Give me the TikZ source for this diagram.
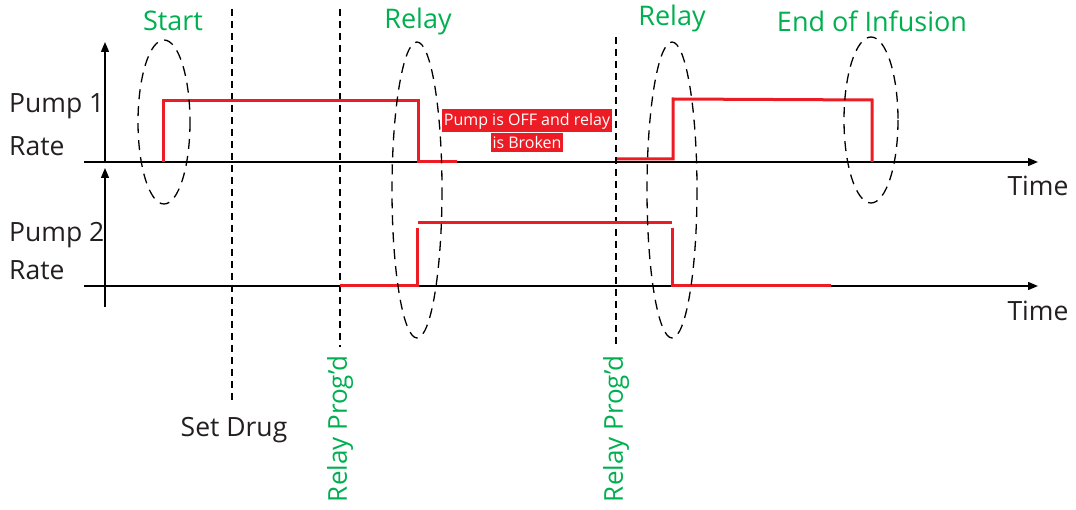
\documentclass[tikz,border=0pt]{standalone}
\usepackage{fontspec}
\setmainfont{Open Sans}
\usetikzlibrary{arrows.meta}
\definecolor{sigred}{RGB}{237,28,36}
\definecolor{evgreen}{RGB}{0,176,80}
\definecolor{ink}{RGB}{35,31,32}
\begin{document}
\begin{tikzpicture}[x=1pt,y=-1pt,
  axis/.style={line width=1.4pt,draw=black,-{Triangle[length=10pt,width=8pt]}},
  signal/.style={line width=3pt,draw=sigred},
  guide/.style={line width=1.4pt,draw=black,dash pattern=on 7pt off 5pt},
  marker/.style={line width=1.3pt,draw=black,dash pattern=on 10pt off 7pt},
  event/.style={text=evgreen,font=\fontsize{27}{30}\selectfont,inner sep=0pt},
  lbl/.style={text=ink,font=\fontsize{26.5}{30}\selectfont,inner sep=0pt},
  note/.style={fill=sigred,text=white,font=\fontsize{16}{20}\selectfont,inner xsep=1.5pt,inner ysep=3.5pt}]
\useasboundingbox (0,0) rectangle (1076,510);

% axes
\coordinate (o1) at (105,162);
\coordinate (y1) at (105,42);
\coordinate (x1s) at (84,162);
\coordinate (x1e) at (1038,162);
\coordinate (o2) at (105,307);
\coordinate (y2) at (105,168);
\coordinate (x2s) at (84,286);
\coordinate (x2e) at (1038,286);
\draw[axis] (o1) -- (y1);
\draw[axis] (o2) -- (y2);
\draw[axis] (x1s) -- (x1e);
\draw[axis] (x2s) -- (x2e);

% axis labels
\node[lbl,anchor=west] (p1) at (9,106) {Pump 1};
\node[lbl,anchor=west] (r1) at (9,146) {Rate};
\node[lbl,anchor=west] (p2) at (9,235) {Pump 2};
\node[lbl,anchor=west] (r2) at (9,270) {Rate};
\node[lbl] (t1) at (1038,186) {Time};
\node[lbl] (t2) at (1038,311) {Time};

% vertical time markers
\coordinate (sdTop) at (232,9);
\coordinate (sdBot) at (232,400);
\coordinate (rp1Top) at (340,9);
\coordinate (rp1Bot) at (340,347);
\coordinate (rp2Top) at (616,37);
\coordinate (rp2Bot) at (616,347);
\draw[guide] (sdTop) -- (sdBot);
\draw[guide] (rp1Top) -- (rp1Bot);
\draw[guide] (rp2Top) -- (rp2Bot);
\node[lbl] (setdrug) at (234,430) {Set Drug};
\node[event,rotate=90,font=\fontsize{26}{30}\selectfont] (relprog1) at (340,429) {Relay Prog’d};
\node[event,rotate=90,font=\fontsize{26}{30}\selectfont] (relprog2) at (616,429) {Relay Prog’d};

% pump 1 rate
\draw[signal] (163,162) -- (163,101) -- (418,101) -- (418,162) -- (457,162);
\draw[signal] (617,159) -- (673,159) -- (673,99) -- (872,100) -- (872,162);

% pump 2 rate
\draw[signal] (340,286) -- (417,286) -- (417,228);
\draw[signal] (418,223) -- (672,223);
\draw[signal] (672,228) -- (672,286) -- (831,286);

% event rings
\draw[marker] (164,122) ellipse [x radius=26, y radius=82];
\draw[marker] (417,190) ellipse [x radius=25, y radius=148];
\draw[marker] (672,190) ellipse [x radius=25, y radius=148];
\draw[marker] (871,120) ellipse [x radius=27, y radius=83];

% event titles
\node[event] (start) at (173,21) {Start};
\node[event] (relay1) at (418,21) {Relay};
\node[event] (relay2) at (672,18) {Relay};
\node[event] (eoi) at (872,21) {End of Infusion};

% fault note
\node[note] (n1) at (527,121) {Pump is OFF and relay};
\node[note,anchor=north] (n2) at (n1.south) {is Broken};
\end{tikzpicture}
\end{document}
